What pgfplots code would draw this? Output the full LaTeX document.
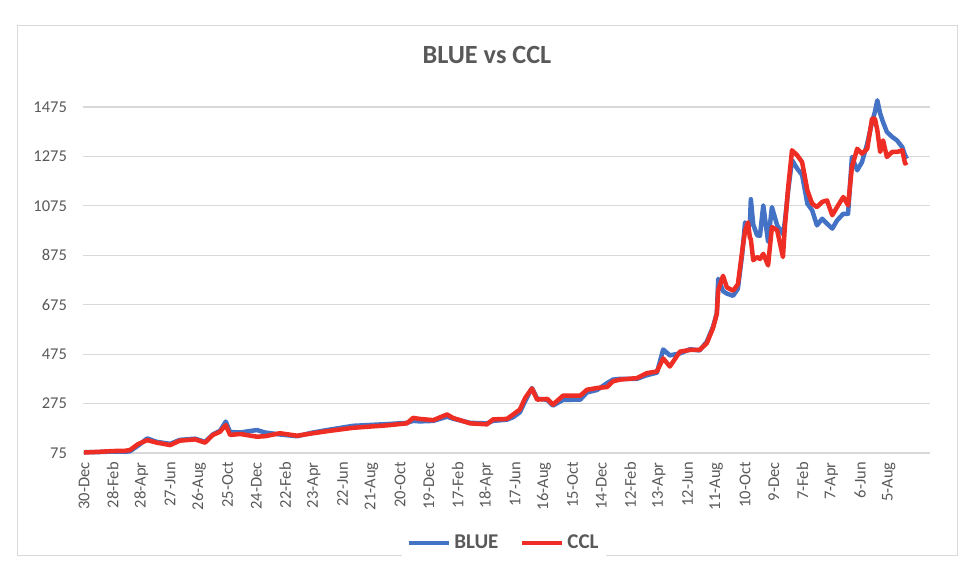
\documentclass[border=0pt]{standalone}
\usepackage{fontspec}
\setmainfont{Carlito}
\usepackage{pgfplots}
\pgfplotsset{compat=1.18}
\definecolor{txtgray}{HTML}{595959}
\definecolor{gridgray}{HTML}{D9D9D9}
\definecolor{blueline}{HTML}{4472C4}
\definecolor{redline}{HTML}{EE2E24}
\begin{document}
\begin{tikzpicture}
\useasboundingbox (-55.33pt,-79.33pt) rectangle (598pt,302pt);
\draw[gridgray, line width=0.6pt] (-44pt,-68pt) rectangle (582.7pt,285.3pt);
\begin{axis}[
  scale only axis,
  width=564.67pt, height=230.67pt,
  xmin=-2, xmax=1766,
  ymin=75, ymax=1475,
  clip=false,
  axis line style={draw=none},
  ytick={75,275,475,675,875,1075,1275,1475},
  xtick={0,60,...,1680},
  xticklabels={30-Dec,28-Feb,28-Apr,27-Jun,26-Aug,25-Oct,24-Dec,22-Feb,23-Apr,22-Jun,21-Aug,20-Oct,19-Dec,17-Feb,18-Apr,17-Jun,16-Aug,15-Oct,14-Dec,12-Feb,13-Apr,12-Jun,11-Aug,10-Oct,9-Dec,7-Feb,7-Apr,6-Jun,5-Aug},
  major tick length=0pt,
  ymajorgrids=true,
  grid style={gridgray, line width=0.8pt},
  /pgf/number format/assume math mode=true,
  /pgf/number format/set thousands separator={},
  tick label style={font=\fontsize{11}{13}\selectfont, text=txtgray},
  yticklabel style={inner sep=0pt, xshift=-10.5pt},
  xticklabel style={rotate=90, anchor=east, inner sep=0pt},
  xticklabel shift=6pt,
  legend columns=2,
  legend style={at={(axis description cs:0.497,-0.26)}, anchor=center, draw=none,
    font=\fontsize{14}{16}\selectfont\bfseries, text=txtgray,
    /tikz/every even column/.append style={column sep=12pt}},
  legend image code/.code={\draw[#1, line width=3pt] (0pt,0pt) -- (27pt,0pt);},
]
\addplot[blueline, line width=3pt, line join=round] coordinates {
(0,78) (33,79) (61,81) (86,80) (96,82) (113,105) (132,134) (152,120) (180,112)
(200,128) (232,133) (253,120) (269,150) (284,165) (296,202) (305,160) (326,158)
(361,168) (378,158) (409,150) (445,143) (478,158) (514,170) (562,185) (633,192)
(674,197) (687,205) (701,203) (729,205) (758,222) (770,214) (806,197) (841,195)
(854,205) (883,210) (896,220) (910,240) (921,285) (935,338) (946,295) (967,290)
(979,267) (1000,290) (1036,291) (1050,320) (1071,330) (1092,358) (1104,372)
(1119,375) (1154,375) (1175,390) (1196,400) (1209,494) (1223,470) (1244,478)
(1265,495) (1285,490) (1300,525) (1313,585) (1321,640) (1324,780) (1334,730)
(1342,720) (1355,711) (1365,740) (1374,880) (1380,1008) (1386,990) (1390,1000)
(1392,1102) (1397,1000) (1405,956) (1411,954) (1418,1077) (1428,930) (1436,1070)
(1447,996) (1459,960) (1463,1010) (1470,1138) (1478,1260) (1489,1225) (1499,1200)
(1510,1084) (1520,1057) (1530,996) (1541,1023) (1551,1003) (1562,983) (1572,1016)
(1585,1043) (1595,1043) (1603,1273) (1614,1219) (1624,1252) (1635,1327)
(1645,1414) (1651,1455) (1656,1502) (1662,1448) (1668,1414) (1676,1374)
(1687,1354) (1697,1340) (1708,1313) (1714,1279) (1718,1266)
};
\addlegendentry{BLUE}
\addplot[redline, line width=3pt, line join=round] coordinates {
(0,77) (33,80) (61,83) (86,84) (96,87) (113,111) (132,127) (152,117) (180,107)
(200,125) (232,130) (253,117) (269,148) (284,161) (296,188) (305,148) (326,152)
(361,141) (378,143) (409,155) (445,145) (478,155) (514,165) (562,177) (633,187)
(674,195) (687,217) (701,213) (729,208) (758,231) (770,217) (806,195) (841,191)
(854,211) (883,213) (896,231) (910,251) (921,298) (935,336) (946,291) (967,294)
(979,271) (1000,307) (1036,307) (1050,331) (1071,338) (1092,342) (1104,365)
(1119,372) (1154,378) (1175,398) (1196,405) (1209,458) (1223,425) (1244,485)
(1265,492) (1285,492) (1300,519) (1313,580) (1321,638) (1324,735) (1334,792)
(1342,745) (1355,732) (1365,758) (1374,893) (1380,974) (1386,1008) (1390,947)
(1392,940) (1397,855) (1405,868) (1411,860) (1418,881) (1428,834) (1436,989)
(1447,976) (1459,868) (1463,989) (1470,1151) (1478,1300) (1489,1279) (1499,1252)
(1510,1138) (1520,1084) (1530,1070) (1541,1091) (1551,1097) (1562,1037)
(1572,1070) (1585,1111) (1595,1077) (1603,1232) (1614,1306) (1624,1286)
(1635,1306) (1645,1428) (1651,1428) (1656,1381) (1662,1293) (1668,1340)
(1676,1273) (1687,1293) (1697,1293) (1708,1300) (1714,1246) (1718,1252)
};
\addlegendentry{CCL}
\end{axis}
\node[text=txtgray, font=\fontsize{17.5}{20}\selectfont\bfseries] at (269.3pt,265.3pt) {BLUE vs CCL};
\end{tikzpicture}
\end{document}
